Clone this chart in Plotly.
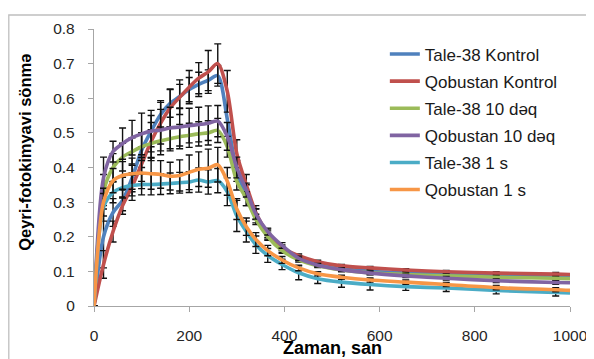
import plotly.graph_objects as go

# time points (s)
t = [0, 20, 40, 60, 80, 100, 120, 140, 160, 180, 200, 220, 240, 260,
     280, 300, 320, 340, 365, 395, 430, 470, 520, 580, 655, 740, 845, 970, 1000]

names = ["Tale-38 Kontrol", "Qobustan Kontrol", "Tale-38 10 dəq",
         "Qobustan 10 dəq", "Tale-38 1 s", "Qobustan 1 s"]
colors = ["#4F81BD", "#C0504D", "#9BBB59", "#8064A2", "#4BACC6", "#F79646"]

tale_kontrol = [0, 0.20, 0.27, 0.305, 0.37, 0.45, 0.505, 0.553, 0.585, 0.605, 0.625, 0.64, 0.652, 0.665,
                0.54, 0.39, 0.32, 0.26, 0.205, 0.163, 0.138, 0.12, 0.108, 0.10, 0.095, 0.092, 0.088, 0.085, 0.084]
qob_kontrol = [0, 0.12, 0.215, 0.29, 0.345, 0.41, 0.475, 0.528, 0.572, 0.603, 0.632, 0.658, 0.676, 0.70,
               0.62, 0.44, 0.35, 0.27, 0.21, 0.168, 0.145, 0.128, 0.116, 0.11, 0.104, 0.099, 0.095, 0.092, 0.091]
tale_10 = [0, 0.33, 0.40, 0.43, 0.446, 0.46, 0.469, 0.477, 0.483, 0.489, 0.493, 0.497, 0.50, 0.507,
           0.46, 0.36, 0.31, 0.25, 0.20, 0.16, 0.133, 0.116, 0.104, 0.096, 0.091, 0.087, 0.083, 0.080, 0.079]
qob_10 = [0, 0.37, 0.446, 0.469, 0.486, 0.497, 0.505, 0.508, 0.514, 0.517, 0.521, 0.524, 0.528, 0.534,
          0.49, 0.40, 0.335, 0.266, 0.215, 0.175, 0.138, 0.118, 0.105, 0.095, 0.087, 0.080, 0.073, 0.068, 0.067]
tale_1s = [0, 0.285, 0.328, 0.342, 0.348, 0.351, 0.351, 0.352, 0.354, 0.356, 0.358, 0.364, 0.358, 0.362,
           0.33, 0.26, 0.215, 0.177, 0.146, 0.12, 0.096, 0.079, 0.069, 0.062, 0.056, 0.052, 0.045, 0.039, 0.038]
qob_1s = [0, 0.30, 0.362, 0.377, 0.382, 0.384, 0.382, 0.38, 0.375, 0.377, 0.386, 0.395, 0.398, 0.408,
          0.36, 0.28, 0.229, 0.192, 0.16, 0.133, 0.11, 0.093, 0.083, 0.075, 0.069, 0.062, 0.053, 0.047, 0.045]

err_tale_kontrol = [0, 0.09, 0.04, 0.03, 0.04, 0.05, 0.045, 0.04, 0.04, 0.035, 0.035, 0.035, 0.03, 0.03,
                    0.04, 0.03, 0.03, 0.02, 0.012, 0.008, 0.006, 0.005, 0.005, 0.005, 0.005, 0.005, 0.005, 0.005, 0]
err_qob_kontrol = [0, 0.04, 0.03, 0.025, 0.04, 0.05, 0.055, 0.06, 0.055, 0.05, 0.048, 0.045, 0.062, 0.057,
                   0.06, 0.04, 0.03, 0.02, 0.012, 0.008, 0.005, 0.004, 0.004, 0.004, 0.004, 0.004, 0.004, 0.005, 0]
err_tale_10 = [0, 0.05, 0.04, 0.04, 0.04, 0.04, 0.04, 0.04, 0.035, 0.035, 0.035, 0.035, 0.035, 0.035,
               0.03, 0.025, 0.02, 0.015, 0.01, 0.008, 0.006, 0.005, 0.005, 0.005, 0.005, 0.005, 0.005, 0.005, 0]
err_qob_10 = [0, 0.06, 0.03, 0.045, 0.05, 0.06, 0.06, 0.06, 0.06, 0.055, 0.05, 0.05, 0.05, 0.045,
              0.04, 0.03, 0.02, 0.015, 0.01, 0.008, 0.006, 0.005, 0.005, 0.005, 0.005, 0.005, 0.005, 0.005, 0]
err_tale_1s = [0, 0.04, 0.03, 0.03, 0.03, 0.03, 0.03, 0.03, 0.03, 0.03, 0.03, 0.035, 0.035, 0.035,
               0.04, 0.045, 0.03, 0.025, 0.02, 0.015, 0.02, 0.014, 0.015, 0.016, 0.011, 0.01, 0.01, 0.01, 0]
err_qob_1s = [0, 0.04, 0.035, 0.04, 0.045, 0.045, 0.045, 0.04, 0.04, 0.045, 0.05, 0.05, 0.055, 0.05,
              0.04, 0.03, 0.025, 0.02, 0.015, 0.01, 0.008, 0.006, 0.006, 0.006, 0.006, 0.006, 0.006, 0.006, 0]

series = [tale_kontrol, qob_kontrol, tale_10, qob_10, tale_1s, qob_1s]
errors = [err_tale_kontrol, err_qob_kontrol, err_tale_10, err_qob_10, err_tale_1s, err_qob_1s]

FONT = "Liberation Sans"

fig = go.Figure()
for name, col, y, e in zip(names, colors, series, errors):
    fig.add_trace(go.Scatter(
        x=t, y=y, name=name, mode="lines", legendgroup=name,
        line=dict(color=col, width=3.6, shape="spline", smoothing=0.8),
        error_y=dict(type="data", array=e, visible=True, color="#111111",
                     thickness=1.4, width=3.5),
    ))

axis_common = dict(showgrid=False, zeroline=False, showline=True, linecolor="#A6A6A6",
                   linewidth=1.3, ticks="outside", tickcolor="#A6A6A6", ticklen=5, tickwidth=1.3,
                   tickfont=dict(family=FONT, size=15.5, color="#262626"))

fig.update_layout(
    width=594, height=359,
    margin=dict(l=86, r=32, t=15, b=61),
    paper_bgcolor="white", plot_bgcolor="white",
    showlegend=True,
    legend=dict(x=0.611, y=0.973, xanchor="left", yanchor="top",
                font=dict(family=FONT, size=17, color="#1a1a1a"),
                bgcolor="rgba(0,0,0,0)", tracegroupgap=2, itemwidth=30),
    xaxis=dict(range=[0, 1000], tickvals=[0, 200, 400, 600, 800, 1000],
               ticklabelstandoff=10, **axis_common),
    yaxis=dict(range=[0, 0.8], tickvals=[0, 0.1, 0.2, 0.3, 0.4, 0.5, 0.6, 0.7, 0.8],
               ticktext=["0", "0.1", "0.2", "0.3", "0.4", "0.5", "0.6", "0.7", "0.8"],
               ticklabelstandoff=10, **axis_common),
    annotations=[
        dict(text="<b>Zaman, san</b>", xref="paper", yref="paper", x=0.5, y=-0.152,
             showarrow=False, xanchor="center", yanchor="middle",
             font=dict(family=FONT, size=18, color="#000")),
        dict(text="<b>Qeyri-fotokimyavi sönmə</b>", xref="paper", yref="paper",
             x=-0.145, y=0.5565, textangle=-90, showarrow=False,
             xanchor="center", yanchor="middle",
             font=dict(family=FONT, size=16.5, color="#000")),
    ],
    shapes=[dict(type="rect", xref="paper", yref="paper", x0=-0.179, x1=1.2,
                 y0=-0.4, y1=1.0505, line=dict(color="#BFBFBF", width=1.3),
                 fillcolor="rgba(0,0,0,0)", layer="below")],
)

fig.write_html("out.html")
